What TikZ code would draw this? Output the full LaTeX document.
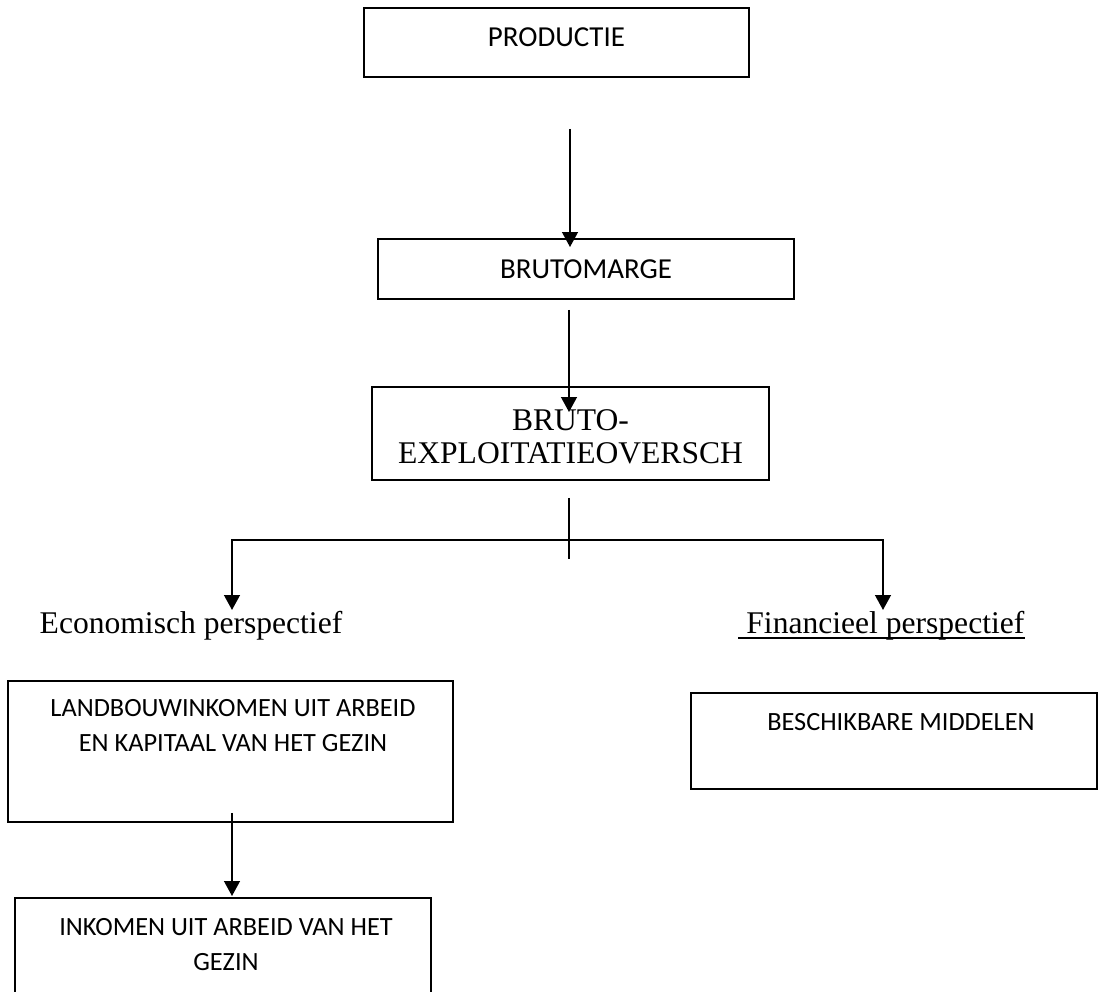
\documentclass[tikz,border=0pt]{standalone}
\usepackage{fontspec}
\setmainfont{Liberation Serif}
\newfontfamily\calibri{Carlito}
\usetikzlibrary{arrows.meta,calc}
\tikzset{
  box/.style={draw, line width=0.75pt, inner sep=0pt},
  boxtext/.style={font=\calibri\fontsize{11}{13.4}\selectfont, align=center, inner sep=0pt},
  smalltext/.style={font=\calibri\fontsize{10}{13.3}\selectfont, align=center, inner sep=0pt},
  serif/.style={font=\fontsize{12}{12.6}\selectfont, align=center, inner sep=0pt},
  ln/.style={line width=0.75pt},
  arr/.style={line width=0.75pt, -{Triangle[width=6pt,length=5.7pt]}},
}
\begin{document}
\begin{tikzpicture}[x=0.38pt,y=-0.38pt]
  \useasboundingbox (0,0) rectangle (1099,992);
  % boxes
  \node[box, minimum width=146.3pt, minimum height=26.22pt] (prod) at (556.5,42.5) {};
  \node[box, minimum width=158.08pt, minimum height=22.8pt] (marge) at (586,269) {};
  \node[box, minimum width=150.86pt, minimum height=35.34pt] (bruto) at (570.5,433.5) {};
  \node[box, minimum width=169.1pt, minimum height=53.58pt] (landb) at (230.5,751.5) {};
  \node[box, minimum width=158.08pt, minimum height=36.48pt] (inkom) at (223,946) {};
  \node[box, minimum width=154.28pt, minimum height=36.48pt] (besch) at (894,741) {};
  % texts
  \node[boxtext] (prodtxt) at (556.5,37) {PRODUCTIE};
  \node[boxtext] (margetxt) at (marge) {BRUTOMARGE};
  \node[serif] (brutotxt) at (570.5,437) {BRUTO-\\EXPLOITATIEOVERSCH};
  \node[smalltext] (landbtxt) at (233,726) {LANDBOUWINKOMEN UIT ARBEID\\EN KAPITAAL VAN HET GEZIN};
  \node[smalltext] (inkomtxt) at (226,945) {INKOMEN UIT ARBEID VAN HET\\GEZIN};
  \node[smalltext] (beschtxt) at (901,722) {BESCHIKBARE MIDDELEN};
  \node[serif, anchor=base] (econ) at (191,633) {Economisch perspectief};
  \node[serif, anchor=base west] (fin) at (738,633) {\ Financieel perspectief};
  \draw[ln] ($(fin.base west)+(0,5)$) -- ($(fin.base east)+(0,5)$);
  % connectors
  \draw[arr] ($(prod.south)+(13.5,51)$) -- ($(marge.north)+(-16,9)$);
  \draw[arr] ($(marge.south)+(-17,10)$) -- ($(bruto.north)+(-1.5,26)$);
  \coordinate (split) at ($(bruto.south)+(-1.5,59)$);
  \coordinate (tipL) at (232,610);
  \coordinate (tipR) at (883,610);
  \draw[ln] ($(bruto.south)+(-1.5,17)$) -- ($(bruto.south)+(-1.5,78)$);
  \draw[arr] (split) -| (tipL);
  \draw[arr] (split) -| (tipR);
  \draw[arr] ($(landb.south)+(1.5,-10)$) -- ($(inkom.north)+(9,-1)$);
\end{tikzpicture}
\end{document}
